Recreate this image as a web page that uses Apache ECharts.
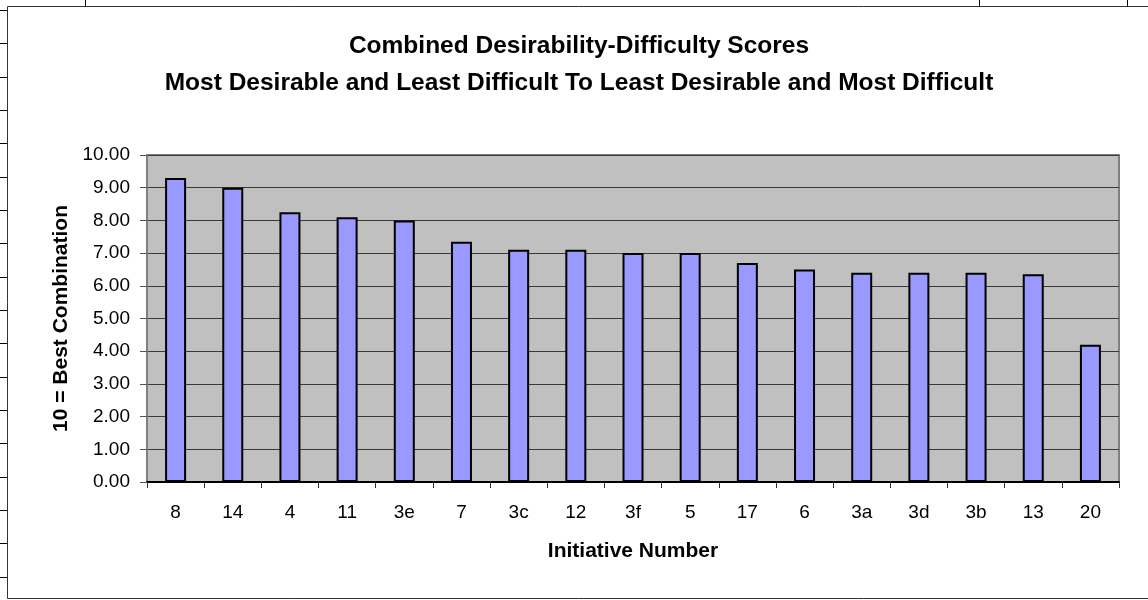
<!DOCTYPE html>
<html>
<head>
<meta charset="utf-8">
<script src="https://cdn.jsdelivr.net/npm/echarts@6/dist/echarts.min.js"></script>
<style>
  html, body { margin: 0; padding: 0; background: #fff; }
  #chart { width: 1148px; height: 600px; }
</style>
</head>
<body>
<div id="chart"></div>
<script>
const initiatives = ["8", "14", "4", "11", "3e", "7", "3c", "12", "3f", "5", "17", "6", "3a", "3d", "3b", "13", "20"];
const scores = [9.3, 9.0, 8.25, 8.1, 8.0, 7.35, 7.1, 7.1, 7.0, 7.0, 6.7, 6.5, 6.4, 6.4, 6.4, 6.35, 4.2];
const yTicks = [0, 1, 2, 3, 4, 5, 6, 7, 8, 9, 10];
const titleLines = [
  "Combined Desirability-Difficulty Scores",
  "Most Desirable and Least Difficult To Least Desirable and Most Difficult",
];

const font = "Liberation Sans, Arial, sans-serif";

// spreadsheet cell lines peeking out around the chart frame
const sheetLines = [];
for (let y = 10; y < 600; y += 33.33) {
  sheetLines.push({ type: "line", shape: { x1: 0, y1: Math.round(y) + 0.5, x2: 7, y2: Math.round(y) + 0.5 }, style: { stroke: "#000", lineWidth: 1 } });
}
[85, 979, 1127].forEach((x) => {
  sheetLines.push({ type: "line", shape: { x1: x + 0.5, y1: 0, x2: x + 0.5, y2: 7 }, style: { stroke: "#000", lineWidth: 1 } });
});

const titleText = titleLines.map((line, i) => ({
  type: "text",
  x: 579,
  y: 46 + i * 37,
  style: {
    text: line,
    align: "center",
    verticalAlign: "middle",
    fontFamily: font,
    fontSize: 24.5,
    fontWeight: "bold",
    fill: "#000",
  },
}));

const chart = echarts.init(document.getElementById("chart"));
chart.setOption({
  animation: false,
  backgroundColor: "#fff",
  graphic: [
    { type: "rect", shape: { x: 7.5, y: 6.5, width: 1200, height: 592 }, style: { fill: "#fff", stroke: "#333", lineWidth: 1 }, z: -10 },
    ...sheetLines,
    ...titleText,
  ],
  grid: {
    left: 147,
    top: 155,
    width: 972,
    height: 327,
    show: true,
    backgroundColor: "#C0C0C0",
    borderColor: "#808080",
    borderWidth: 2,
  },
  xAxis: {
    type: "category",
    data: initiatives,
    name: "Initiative Number",
    nameLocation: "middle",
    nameGap: 59,
    nameTextStyle: { fontFamily: font, fontSize: 21, fontWeight: "bold", color: "#000" },
    axisLine: { lineStyle: { color: "#000", width: 2 } },
    axisTick: { show: true, length: 6, alignWithLabel: false, lineStyle: { color: "#333" } },
    axisLabel: { fontFamily: font, fontSize: 19, color: "#000", margin: 21 },
    splitLine: { show: false },
  },
  yAxis: {
    type: "value",
    min: yTicks[0],
    max: yTicks[yTicks.length - 1],
    interval: 1,
    name: "10 = Best Combination",
    nameLocation: "middle",
    nameGap: 75,
    nameTextStyle: { fontFamily: font, fontSize: 21, fontWeight: "bold", color: "#000" },
    axisLine: { show: true, lineStyle: { color: "#808080", width: 2 } },
    axisTick: { show: true, length: 7, lineStyle: { color: "#555" } },
    axisLabel: { fontFamily: font, fontSize: 19, color: "#000", margin: 17, formatter: (v) => v.toFixed(2) },
    splitLine: { show: true, lineStyle: { color: "#3a3a3a", width: 1 } },
  },
  series: [
    {
      type: "bar",
      data: scores,
      barWidth: 21,
      itemStyle: { color: "#9999FF", borderColor: "#000", borderWidth: 2 },
    },
  ],
});
</script>
</body>
</html>
